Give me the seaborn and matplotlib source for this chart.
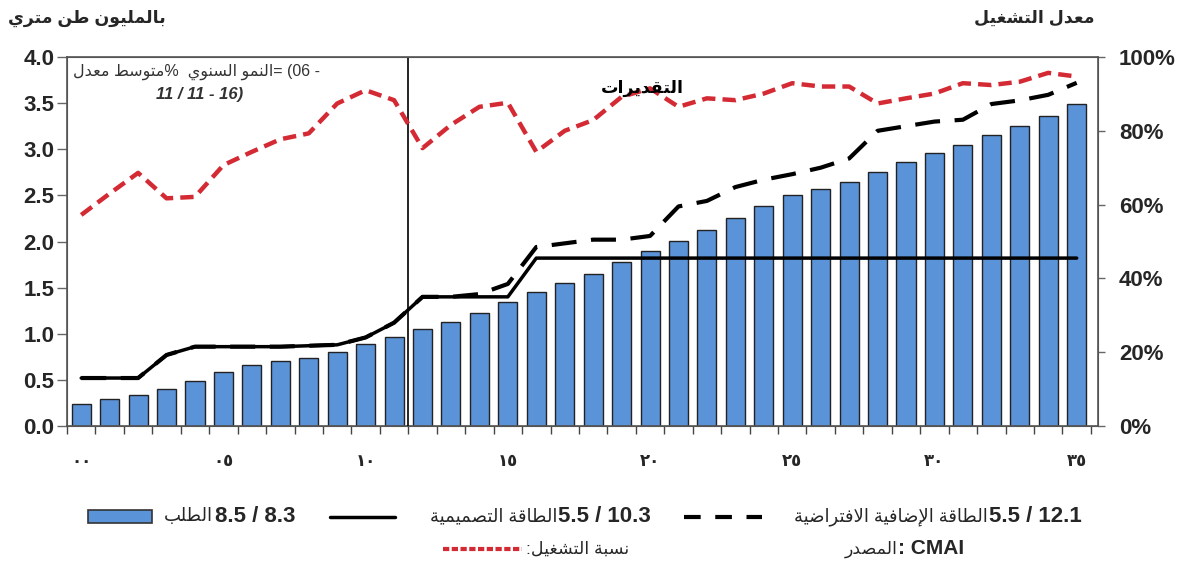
import numpy as np
import pandas as pd
import matplotlib
matplotlib.use("Agg")
import matplotlib.pyplot as plt
import seaborn as sns
from matplotlib.patches import Rectangle
from matplotlib.lines import Line2D

# data (years 2000-2035)
years = list(range(36))
demand = [0.24, 0.29, 0.34, 0.40, 0.49, 0.58, 0.66, 0.70, 0.74, 0.80, 0.89, 0.97,
          1.05, 1.13, 1.23, 1.34, 1.45, 1.55, 1.65, 1.78, 1.90, 2.01, 2.12, 2.25,
          2.38, 2.50, 2.57, 2.65, 2.75, 2.86, 2.96, 3.05, 3.15, 3.25, 3.36, 3.49]
design_cap = [0.52, 0.52, 0.52, 0.77, 0.86, 0.86, 0.86, 0.86, 0.87, 0.88, 0.96, 1.12,
              1.40, 1.40, 1.40, 1.40, 1.82, 1.82, 1.82, 1.82, 1.82, 1.82, 1.82, 1.82,
              1.82, 1.82, 1.82, 1.82, 1.82, 1.82, 1.82, 1.82, 1.82, 1.82, 1.82, 1.82]
hypo_cap = [0.52, 0.52, 0.52, 0.77, 0.86, 0.86, 0.86, 0.86, 0.87, 0.88, 0.96, 1.12,
            1.40, 1.40, 1.43, 1.54, 1.94, 1.98, 2.02, 2.02, 2.06, 2.38, 2.44, 2.59,
            2.67, 2.73, 2.80, 2.90, 3.20, 3.25, 3.30, 3.32, 3.49, 3.53, 3.59, 3.72]
operating = [57.2, 63.0, 68.6, 61.7, 62.1, 70.7, 74.3, 77.7, 79.3, 87.4, 91.0, 88.3,
             75.3, 81.6, 86.5, 87.6, 74.3, 80.0, 82.9, 89.2, 91.5, 86.5, 88.8, 88.3,
             90.1, 92.9, 92.0, 92.0, 87.4, 88.8, 90.1, 92.9, 92.4, 93.3, 95.7, 94.7]
xtick_pos = [0, 5, 10, 15, 20, 25, 30, 35]
xtick_labels = ["٠٠", "٠٥", "١٠", "١٥", "٢٠", "٢٥", "٣٠", "٣٥"]
left_ticks = [0.0, 0.5, 1.0, 1.5, 2.0, 2.5, 3.0, 3.5, 4.0]
right_ticks = [0, 20, 40, 60, 80, 100]
forecast_start = 11.5

BLUE = "#5A93D8"
RED = "#D42A34"

# matplotlib does no arabic shaping, so map letters to presentation forms
# (isolated, final, initial, medial) and flip to visual order
FORMS = {
    "ا": (0xFE8D, 0xFE8E, None, None), "إ": (0xFE87, 0xFE88, None, None),
    "ب": (0xFE8F, 0xFE90, 0xFE91, 0xFE92), "ة": (0xFE93, 0xFE94, None, None),
    "ت": (0xFE95, 0xFE96, 0xFE97, 0xFE98), "د": (0xFEA9, 0xFEAA, None, None),
    "ر": (0xFEAD, 0xFEAE, None, None), "س": (0xFEB1, 0xFEB2, 0xFEB3, 0xFEB4),
    "ش": (0xFEB5, 0xFEB6, 0xFEB7, 0xFEB8), "ص": (0xFEB9, 0xFEBA, 0xFEBB, 0xFEBC),
    "ض": (0xFEBD, 0xFEBE, 0xFEBF, 0xFEC0), "ط": (0xFEC1, 0xFEC2, 0xFEC3, 0xFEC4),
    "ع": (0xFEC9, 0xFECA, 0xFECB, 0xFECC), "غ": (0xFECD, 0xFECE, 0xFECF, 0xFED0),
    "ف": (0xFED1, 0xFED2, 0xFED3, 0xFED4), "ق": (0xFED5, 0xFED6, 0xFED7, 0xFED8),
    "ل": (0xFEDD, 0xFEDE, 0xFEDF, 0xFEE0), "م": (0xFEE1, 0xFEE2, 0xFEE3, 0xFEE4),
    "ن": (0xFEE5, 0xFEE6, 0xFEE7, 0xFEE8), "و": (0xFEED, 0xFEEE, None, None),
    "ي": (0xFEF1, 0xFEF2, 0xFEF3, 0xFEF4),
}
LAM_ALEF = {"ا": (0xFEFB, 0xFEFC), "إ": (0xFEF9, 0xFEFA)}


def ar(text):
    out = []
    prev = None
    i = 0
    while i < len(text):
        c = text[i]
        if c not in FORMS:
            out.append(c)
            prev = None
            i += 1
            continue
        prev_j = prev is not None and FORMS[prev][2] is not None
        nxt = text[i + 1] if i + 1 < len(text) else None
        if c == "ل" and nxt in LAM_ALEF:
            iso, fin = LAM_ALEF[nxt]
            out.append(chr(fin if prev_j else iso))
            prev = "ا"
            i += 2
            continue
        iso, fin, ini, med = FORMS[c]
        next_j = nxt in FORMS and ini is not None
        if prev_j and next_j:
            g = med
        elif prev_j:
            g = fin
        elif next_j:
            g = ini
        else:
            g = iso
        out.append(chr(g))
        prev = c
        i += 1
    return "".join(reversed(out))


sns.set_style("ticks")
plt.rcParams["font.family"] = ["Liberation Sans", "DejaVu Sans"]

W, H = 1187, 565
fig = plt.figure(figsize=(W / 100, H / 100), dpi=100)
ax = fig.add_axes([67 / W, 1 - 426 / H, (1098 - 67) / W, (426 - 57) / H])


def fx(x, y):
    return x / W, 1 - y / H


df = pd.DataFrame({"year": years, "demand": demand, "design": design_cap,
                   "hypo": hypo_cap, "operating": operating})

sns.barplot(data=df, x="year", y="demand", native_scale=True, color=BLUE,
            saturation=1, edgecolor="#222222", linewidth=1, width=0.67, ax=ax, zorder=2)
sns.lineplot(data=df, x="year", y="hypo", color="black", linewidth=3,
             linestyle=(0, (6, 3.5)), ax=ax, zorder=3)
sns.lineplot(data=df, x="year", y="design", color="black", linewidth=2.5, ax=ax, zorder=4)
ax.axvline(forecast_start, color="black", linewidth=1.2, zorder=5)

ax.set_xlim(-0.5, 35.75)
ax.set_ylim(0, 4.0)
ax.set_yticks(left_ticks)
ax.set_yticklabels([f"{v:.1f}" for v in left_ticks], fontsize=16, fontweight="bold")
ax.set_xticks(xtick_pos)
ax.set_xticklabels(xtick_labels, fontsize=12, fontweight="bold")
ax.set_xticks(np.arange(-0.5, 36, 1), minor=True)
ax.tick_params(axis="x", which="major", length=0, pad=20)
ax.tick_params(axis="x", which="minor", length=6, width=1, direction="out", color="#444444")
ax.tick_params(axis="y", length=7, width=1, pad=2, color="#666666")
ax.set_xlabel("")
ax.set_ylabel("")
for side in ["left", "top", "right", "bottom"]:
    ax.spines[side].set_color("#555555")
    ax.spines[side].set_linewidth(1.2)

ax2 = ax.twinx()
sns.lineplot(data=df, x="year", y="operating", color=RED, linewidth=3.2,
             linestyle=(0, (3, 1.6)), ax=ax2, zorder=6)
ax2.set_ylim(0, 100)
ax2.set_yticks(right_ticks)
ax2.set_yticklabels([f"{v}%" for v in right_ticks], fontsize=16, fontweight="bold")
ax2.tick_params(axis="y", length=5, width=1, pad=10, color="#666666")
ax2.set_ylabel("")
ax2.set_xlim(-0.5, 35.75)
for side in ["left", "top", "right", "bottom"]:
    ax2.spines[side].set_color("#555555")

# axis titles
fig.text(*fx(8, 18), ar("بالمليون طن متري"), fontsize=12.5, fontweight="bold",
         ha="left", va="center")
fig.text(*fx(1095, 18), ar("معدل التشغيل"), fontsize=12.5, fontweight="bold",
         ha="right", va="center")

# annotations inside the plot (the oblique face has no arabic glyphs, so upright)
fig.text(*fx(73, 72), ar("متوسط معدل") + "%  " + ar("النمو السنوي") + "= (06 -",
         fontsize=11.5, color="#333333", ha="left", va="center")
fig.text(*fx(200, 95), "11 / 11 - 16)", fontsize=12, style="italic",
         fontweight="bold", color="#333333", ha="center", va="center")
fig.text(*fx(642, 88), ar("التقديرات"), fontsize=12.5,
         fontweight="bold", color="black", ha="center", va="center")

# legend, laid out right-to-left like the original
ly = 517
fig.patches.append(Rectangle(fx(88, 523), 64 / W, 13 / H, transform=fig.transFigure,
                             facecolor=BLUE, edgecolor="#333333", linewidth=1.2))
fig.text(*fx(213, ly), ar("الطلب"), fontsize=13, ha="right", va="center")
fig.text(*fx(215, ly), "8.5 / 8.3", fontsize=16, fontweight="bold", ha="left", va="center")
fig.lines.append(Line2D([330 / W, 395 / W], [1 - ly / H] * 2, transform=fig.transFigure,
                        color="black", linewidth=2.5))
fig.text(*fx(557, ly), ar("الطاقة التصميمية"), fontsize=13, ha="right", va="center")
fig.text(*fx(558, ly), "5.5 / 10.3", fontsize=16, fontweight="bold", ha="left", va="center")
fig.lines.append(Line2D([684 / W, 762 / W], [1 - ly / H] * 2, transform=fig.transFigure,
                        color="black", linewidth=3, linestyle=(0, (4, 3.5))))
fig.text(*fx(988, ly), ar("الطاقة الإضافية الافتراضية"), fontsize=13, ha="right", va="center")
fig.text(*fx(989, ly), "5.5 / 12.1", fontsize=16, fontweight="bold", ha="left", va="center")

ly2 = 549
fig.lines.append(Line2D([443 / W, 522 / W], [1 - ly2 / H] * 2, transform=fig.transFigure,
                        color=RED, linewidth=3, linestyle=(0, (1.5, 0.6))))
fig.text(*fx(526, ly2), ar("نسبة التشغيل:"), fontsize=12.5, ha="left", va="center")
fig.text(*fx(898, ly2), ar("المصدر"), fontsize=12.5, ha="right", va="center")
fig.text(*fx(898, ly2), ": CMAI", fontsize=15, fontweight="bold", ha="left", va="center")

fig.savefig("out.png", dpi=100)
